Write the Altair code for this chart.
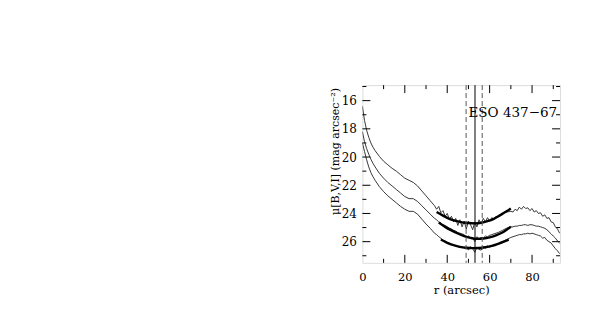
import altair as alt
import pandas as pd

# --- data ---
r_thin = [0,1,2,3,4,5,6,8,10,12,14,16,18,20,22,24,26,28,30,32,34,
          35,36,37,38,39,40,41,42,43,44,45,46,47,48,49,50,51,52,53,54,55,56,57,58,59,60,61,62,63,64,
          66,68,70,71,72,73,74,75,76,77,78,79,80,81,82,83,84,85,86,87,88,89,90,91,92,93]
mu_I = [16.4,17.4,18.1,18.6,19.0,19.3,19.55,
        19.95,20.3,20.55,20.8,21.0,21.25,21.5,21.65,21.8,22.05,22.4,22.75,23.1,23.45,
        23.7,23.5,23.95,23.8,24.2,24.0,24.4,24.2,24.6,24.35,24.85,24.45,24.95,24.55,25.1,24.55,24.8,25.15,24.6,24.95,24.45,24.75,24.35,24.6,24.3,24.55,24.3,24.4,24.2,24.25,
        24.0,23.9,23.85,23.9,23.7,23.8,23.55,23.7,23.5,23.65,23.6,23.8,23.65,23.9,23.8,24.0,23.95,24.2,24.1,24.35,24.3,24.6,24.65,24.95,25.1,25.4]
mu_V = [18.2,18.9,19.4,19.8,20.15,20.45,20.7,
        21.15,21.5,21.8,22.05,22.3,22.55,22.8,22.95,22.95,23.15,23.45,23.75,24.05,24.35,
        24.45,24.6,24.65,24.8,24.85,24.95,25.05,25.1,25.2,25.25,25.35,25.4,25.45,25.5,25.7,25.6,25.75,25.7,26.0,25.65,25.8,25.7,25.75,25.6,25.65,25.55,25.5,25.45,25.4,25.35,
        25.2,25.05,24.95,24.95,24.9,24.9,24.85,24.85,24.8,24.8,24.85,24.8,24.8,24.85,24.9,24.9,24.95,25.0,25.05,25.15,25.3,25.45,25.6,25.75,25.95,26.1]
mu_B = [19.0,19.6,20.2,20.7,21.1,21.4,21.65,
        22.1,22.45,22.75,23.0,23.25,23.5,23.7,23.85,23.85,24.05,24.4,24.75,25.05,25.4,
        25.5,25.65,25.75,25.9,25.95,26.05,26.1,26.2,26.25,26.3,26.35,26.4,26.35,26.45,26.4,26.6,26.35,26.5,26.75,26.4,26.55,26.6,26.35,26.45,26.3,26.4,26.3,26.25,26.2,26.15,
        26.0,25.85,25.7,25.65,25.6,25.55,25.5,25.5,25.45,25.45,25.4,25.45,25.4,25.45,25.5,25.55,25.6,25.75,25.7,25.9,26.0,26.1,26.3,26.5,26.65,26.85]

fit_I_r = [35,38,41,44,47,50,53,56,59,62,65,68,70]
fit_I = [23.9,24.15,24.38,24.53,24.63,24.68,24.7,24.66,24.55,24.38,24.12,23.85,23.65]
fit_V_r = [36,39,42,45,48,51,54,57,60,63,66,69,70]
fit_V = [24.65,24.95,25.2,25.42,25.6,25.73,25.8,25.78,25.7,25.55,25.35,25.05,24.95]
fit_B_r = [37,40,43,46,49,52,55,58,61,64,67,69]
fit_B = [25.85,26.08,26.25,26.37,26.43,26.46,26.45,26.4,26.3,26.15,25.98,25.86]

dashed_r = [48.9, 56.5]
solid_r = [53.1]

x_major = [20, 40, 60, 80]
x_minor = [10, 30, 50, 70, 90]
y_major = [16, 18, 20, 22, 24, 26]
y_minor = [15, 17, 19, 21, 23, 25, 27]
x_labels = [0, 20, 40, 60, 80]

W, H = 198, 178
FONT = "DejaVu Serif"

thin = pd.concat([
    pd.DataFrame({"r": r_thin, "mu": mu_I, "band": "I"}),
    pd.DataFrame({"r": r_thin, "mu": mu_V, "band": "V"}),
    pd.DataFrame({"r": r_thin, "mu": mu_B, "band": "B"}),
])
fit = pd.concat([
    pd.DataFrame({"r": fit_I_r, "mu": fit_I, "band": "I"}),
    pd.DataFrame({"r": fit_V_r, "mu": fit_V, "band": "V"}),
    pd.DataFrame({"r": fit_B_r, "mu": fit_B, "band": "B"}),
])

xs = alt.Scale(domain=[0, 93.2], nice=False, zero=False)
ys = alt.Scale(domain=[14.9, 27.5], nice=False, zero=False, reverse=True)

X = alt.X("r:Q", scale=xs,
          axis=alt.Axis(values=x_labels, ticks=False, grid=False, domain=False,
                        labelOverlap=False, labelFlush=False,
                        title="r (arcsec)", labelPadding=9, titlePadding=1,
                        labelFont=FONT, titleFont=FONT, labelFontSize=11.5, titleFontSize=11.5,
                        titleFontWeight="normal", labelColor="black", titleColor="black"))
Y = alt.Y("mu:Q", scale=ys,
          axis=alt.Axis(values=y_major, ticks=False, grid=False, domain=False,
                        labelOverlap=False, labelFlush=False,
                        title="μ[B,V,I] (mag arcsec⁻²)", labelPadding=6,
                        labelFont=FONT, titleFont=FONT, labelFontSize=12, titleFontSize=11,
                        titleFontWeight="normal", labelColor="black", titleColor="black",
                        titleX=-27, titleY=66, titleBaseline="middle", titleAngle=-90))

thin_layer = alt.Chart(thin).mark_line(color="#222", strokeWidth=0.9, clip=True).encode(
    x=X, y=Y, detail="band:N")
fit_layer = alt.Chart(fit).mark_line(color="black", strokeWidth=2.4, interpolate="monotone").encode(
    x=X, y=Y, detail="band:N")

dash_layer = alt.Chart(pd.DataFrame({"r": dashed_r})).mark_rule(
    color="#555", strokeDash=[5, 3], strokeWidth=1).encode(x=X)
solid_layer = alt.Chart(pd.DataFrame({"r": solid_r})).mark_rule(
    color="black", strokeWidth=1).encode(x=X)

def xticks(vals, ln):
    d = pd.DataFrame({"r": vals})
    b = alt.Chart(d).mark_rule(color="black", strokeWidth=1).encode(
        x=X, y=alt.value(H), y2=alt.value(H - ln))
    t = alt.Chart(d).mark_rule(color="black", strokeWidth=1).encode(
        x=X, y=alt.value(0), y2=alt.value(ln))
    return [b, t]

def yticks(vals, ln):
    d = pd.DataFrame({"mu": vals})
    l = alt.Chart(d).mark_rule(color="black", strokeWidth=1).encode(
        y=Y, x=alt.value(0), x2=alt.value(ln))
    r = alt.Chart(d).mark_rule(color="black", strokeWidth=1).encode(
        y=Y, x=alt.value(W), x2=alt.value(W - ln))
    return [l, r]

ticks = xticks(x_major, 8) + xticks(x_minor, 4) + yticks(y_major, 8) + yticks(y_minor, 4)

label_layer = alt.Chart(pd.DataFrame({"t": ["ESO 437−67"]})).mark_text(
    font=FONT, fontSize=13.5, align="right", baseline="middle", color="black").encode(
    text="t:N", x=alt.value(W - 3), y=alt.value(28))

chart = alt.layer(thin_layer, fit_layer, dash_layer, solid_layer, label_layer, *ticks).properties(
    width=W, height=H,
    autosize=alt.AutoSizeParams(type="none"),
    padding={"left": 355, "top": 77, "right": 30, "bottom": 40},
).configure_view(stroke="black", strokeWidth=1).configure(background="white")

chart.save("out.html", embed_options={"renderer": "svg", "actions": False})
